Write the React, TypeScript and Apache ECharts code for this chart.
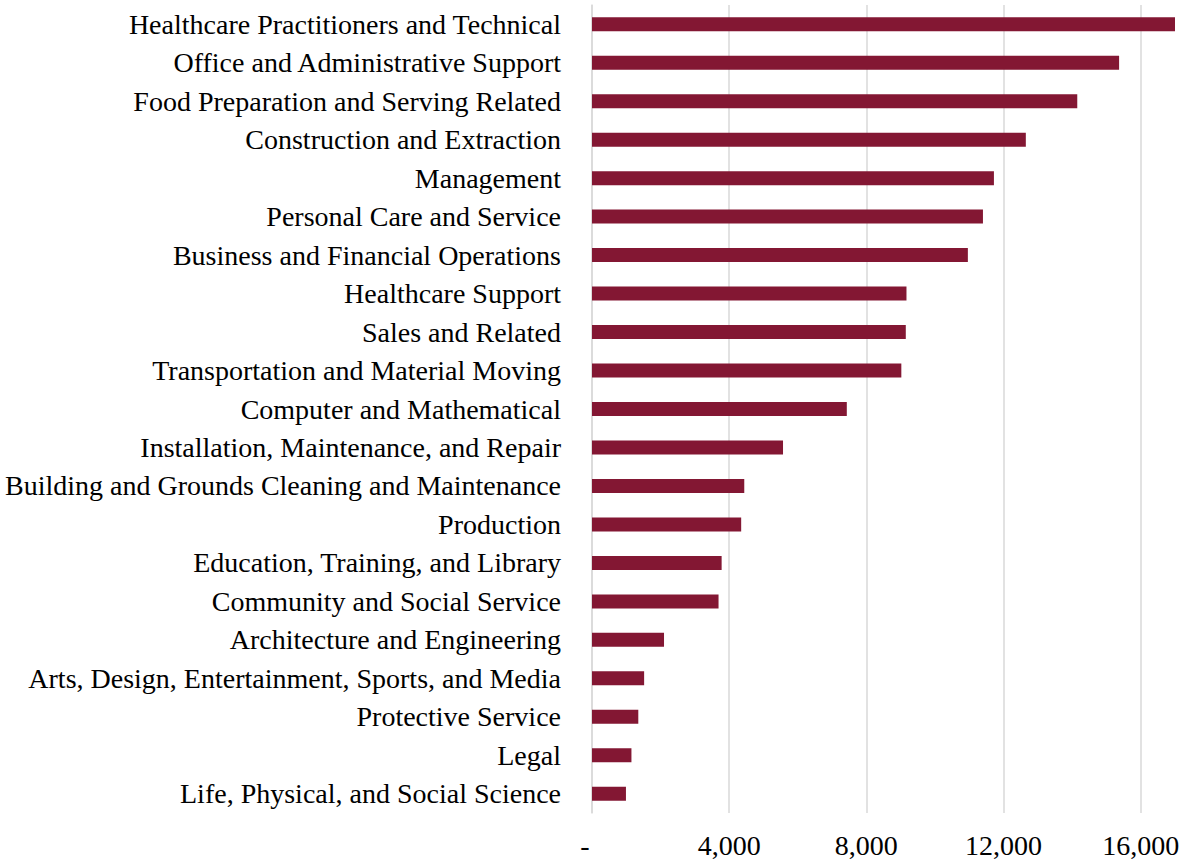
import React, { useEffect, useRef } from "react";
import * as echarts from "echarts";

const categories = [
  "Healthcare Practitioners and Technical",
  "Office and Administrative Support",
  "Food Preparation and Serving Related",
  "Construction and Extraction",
  "Management",
  "Personal Care and Service",
  "Business and Financial Operations",
  "Healthcare Support",
  "Sales and Related",
  "Transportation and Material Moving",
  "Computer and Mathematical",
  "Installation, Maintenance, and Repair",
  "Building and Grounds Cleaning and Maintenance",
  "Production",
  "Education, Training, and Library",
  "Community and Social Service",
  "Architecture and Engineering",
  "Arts, Design, Entertainment, Sports, and Media",
  "Protective Service",
  "Legal",
  "Life, Physical, and Social Science",
];

const values = [
  17000, 15370, 14150, 12650, 11720, 11400, 10960, 9170, 9150, 9020, 7430,
  5570, 4440, 4350, 3780, 3690, 2100, 1520, 1350, 1150, 990,
];

const xMin = 0;
const xMax = 17000;
const xInterval = 4000;

const FONT = "'Liberation Serif', 'Times New Roman', serif";

export default function App() {
  const ref = useRef<HTMLDivElement>(null);
  useEffect(() => {
    if (!ref.current) return;
    const chart = echarts.init(ref.current, undefined, { renderer: "svg" });
    chart.setOption({
      animation: false,
      backgroundColor: "#ffffff",
      grid: { left: 592, right: 8, top: 5, bottom: 47, containLabel: false },
      xAxis: {
        type: "value",
        min: xMin,
        max: xMax,
        interval: xInterval,
        axisLine: { show: false },
        axisTick: { show: false },
        splitLine: {
          show: true,
          showMaxLine: false,
          lineStyle: { color: "#d9d9d9", width: 1.5 },
        },
        axisLabel: {
          showMaxLabel: false,
          margin: 18,
          color: "#000",
          fontFamily: FONT,
          fontSize: 28,
          formatter: (v: number) =>
            v === 0 ? "{z|-}" : v.toLocaleString("en-US"),
          rich: {
            z: {
              fontFamily: FONT,
              fontSize: 28,
              color: "#000",
              padding: [0, 14, 0, 0],
            },
          },
        },
      },
      yAxis: {
        type: "category",
        data: categories,
        inverse: true,
        axisTick: { show: false },
        axisLine: { show: true, lineStyle: { color: "#d9d9d9", width: 1.5 } },
        axisLabel: {
          margin: 31,
          color: "#000",
          fontFamily: FONT,
          fontSize: 28,
        },
      },
      series: [
        {
          type: "bar",
          data: values,
          barWidth: 14,
          itemStyle: { color: "#831733" },
        },
      ],
    });
    return () => chart.dispose();
  }, []);
  return (
    <div
      ref={ref}
      style={{ position: "absolute", left: 0, top: 0, width: 1183, height: 860 }}
    />
  );
}
